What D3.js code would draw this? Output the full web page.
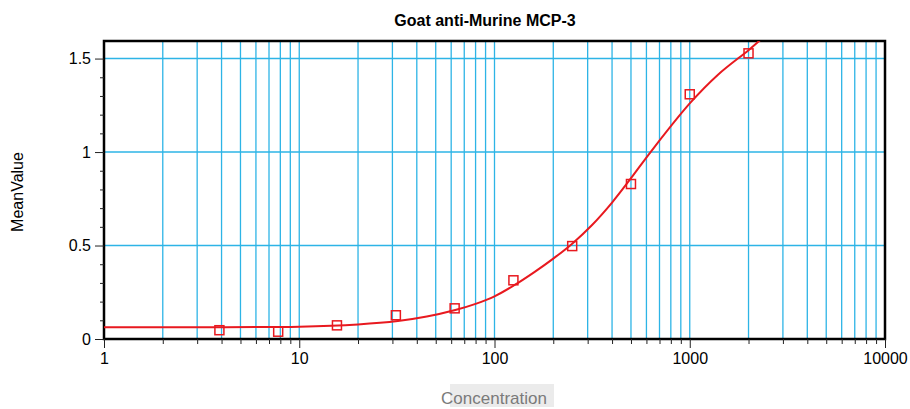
<!DOCTYPE html>
<html>
<head>
<meta charset="utf-8">
<script src="https://cdn.jsdelivr.net/npm/d3@7"></script>
<style>
  body { margin: 0; background: #fff; }
  text { font-family: Arial, "Liberation Sans", sans-serif; }
</style>
</head>
<body>
<div id="chart"></div>
<script>
// measured standards
var conc = [3.9, 7.8, 15.6, 31.25, 62.5, 125, 250, 500, 1000, 2000];
var meanValue = [0.047, 0.039, 0.073, 0.127, 0.164, 0.314, 0.497, 0.829, 1.309, 1.528];

// fitted curve
var fitConc = [1, 3, 10, 20, 32, 45, 63, 80, 100, 125, 160, 200, 250, 316, 400, 500, 630, 1000, 1400, 2000, 2300];
var fitValue = [0.0625, 0.063, 0.066, 0.078, 0.096, 0.12, 0.155, 0.188, 0.228, 0.285, 0.358, 0.43, 0.51, 0.61, 0.73, 0.86, 1.0, 1.26, 1.415, 1.545, 1.6];

var xTicks = [1,2,3,4,5,6,7,8,9,10,20,30,40,50,60,70,80,90,100,200,300,400,500,600,700,800,900,1000,2000,3000,4000,5000,6000,7000,8000,9000,10000];
var yTicks = [0,0.1,0.2,0.3,0.4,0.5,0.6,0.7,0.8,0.9,1,1.1,1.2,1.3,1.4,1.5];
var yGrid = [0.5, 1, 1.5];

var margin = {top: 41, right: 25, bottom: 70, left: 104},
    width = 910 - margin.left - margin.right,
    height = 409 - margin.top - margin.bottom;

var svg = d3.select("#chart")
  .append("svg")
  .attr("width", 910)
  .attr("height", 409)
  .append("g")
  .attr("transform", "translate(" + margin.left + "," + margin.top + ")");

var x = d3.scaleLog().domain([1, 10000]).range([0, width]);
var y = d3.scaleLinear().domain([0, 1.594]).range([height, 0]);

function isDecade(v) { return Math.abs(Math.log10(v) - Math.round(Math.log10(v))) < 1e-9; }
function isHalf(v) { return Math.abs(v * 2 - Math.round(v * 2)) < 1e-9; }

// grid
svg.selectAll(".vgrid")
  .data(xTicks.filter(function(d) { return d > 1 && d < 10000; }))
  .enter().append("line")
  .attr("class", "vgrid")
  .attr("x1", function(d) { return x(d); })
  .attr("x2", function(d) { return x(d); })
  .attr("y1", 0)
  .attr("y2", height)
  .attr("stroke", "#2db4e6")
  .attr("stroke-width", 1.3);

svg.selectAll(".hgrid")
  .data(yGrid)
  .enter().append("line")
  .attr("class", "hgrid")
  .attr("x1", 0)
  .attr("x2", width)
  .attr("y1", function(d) { return y(d); })
  .attr("y2", function(d) { return y(d); })
  .attr("stroke", "#2db4e6")
  .attr("stroke-width", 1.6);

// frame
svg.append("rect")
  .attr("width", width)
  .attr("height", height)
  .attr("fill", "none")
  .attr("stroke", "#000")
  .attr("stroke-width", 2.5);

// axes
var xAxis = d3.axisBottom(x)
  .tickValues(xTicks)
  .tickSize(9)
  .tickFormat(function(d) { return isDecade(d) ? d3.format("d")(d) : ""; });

var gx = svg.append("g")
  .attr("transform", "translate(0," + height + ")")
  .call(xAxis);
gx.select(".domain").remove();
gx.selectAll(".tick line")
  .attr("stroke", "#222")
  .attr("y2", function(d) { return isDecade(d) ? 9 : 5; });
gx.selectAll(".tick text")
  .attr("y", 14)
  .attr("fill", "#000")
  .style("font-size", "16px");

var yAxis = d3.axisLeft(y)
  .tickValues(yTicks)
  .tickSize(9)
  .tickFormat(function(d) { return isHalf(d) ? d3.format("~g")(d) : ""; });

var gy = svg.append("g").call(yAxis);
gy.select(".domain").remove();
gy.selectAll(".tick line")
  .attr("stroke", "#222")
  .attr("x2", function(d) { return isHalf(d) ? -9 : -4; });
gy.selectAll(".tick text")
  .attr("x", -13)
  .attr("fill", "#000")
  .style("font-size", "16px");

// fitted curve
svg.append("clipPath")
  .attr("id", "plotclip")
  .append("rect")
  .attr("width", width)
  .attr("height", height);

var fit = fitConc.map(function(c, i) { return {c: c, v: fitValue[i]}; });
svg.append("path")
  .datum(fit)
  .attr("clip-path", "url(#plotclip)")
  .attr("fill", "none")
  .attr("stroke", "#e8191f")
  .attr("stroke-width", 2)
  .attr("d", d3.line()
    .curve(d3.curveCatmullRom.alpha(0.5))
    .x(function(d) { return x(d.c); })
    .y(function(d) { return y(d.v); }));

// points
var pts = conc.map(function(c, i) { return {c: c, v: meanValue[i]}; });
svg.selectAll(".pt")
  .data(pts)
  .enter().append("rect")
  .attr("class", "pt")
  .attr("x", function(d) { return x(d.c) - 4.5; })
  .attr("y", function(d) { return y(d.v) - 4.5; })
  .attr("width", 9)
  .attr("height", 9)
  .attr("fill", "none")
  .attr("stroke", "#e8191f")
  .attr("stroke-width", 1.5);

// titles
svg.append("text")
  .attr("x", 381)
  .attr("y", -15)
  .attr("text-anchor", "middle")
  .style("font-size", "16px")
  .style("font-weight", "bold")
  .text("Goat anti-Murine MCP-3");

svg.append("text")
  .attr("transform", "rotate(-90)")
  .attr("x", -151)
  .attr("y", -81)
  .attr("text-anchor", "middle")
  .style("font-size", "16px")
  .text("MeanValue");

svg.append("rect")
  .attr("x", 346)
  .attr("y", height + 45)
  .attr("width", 104)
  .attr("height", 23)
  .attr("fill", "#ebebeb");

svg.append("text")
  .attr("x", 390)
  .attr("y", height + 65)
  .attr("text-anchor", "middle")
  .attr("fill", "#7a7a7a")
  .style("font-size", "17px")
  .text("Concentration");
</script>
</body>
</html>
